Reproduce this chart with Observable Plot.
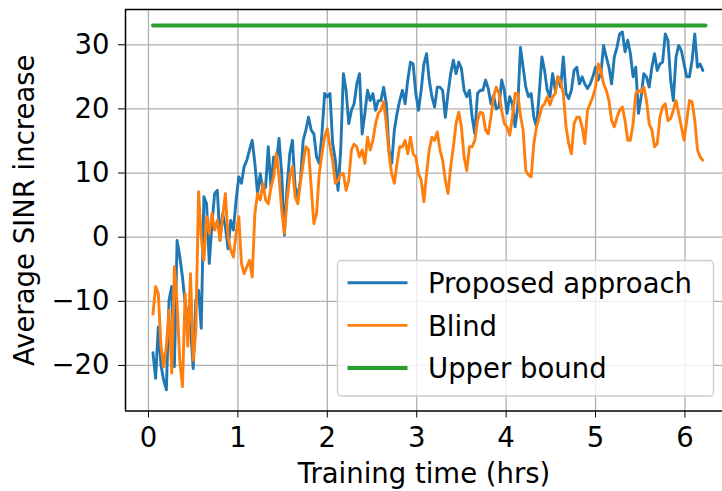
<!DOCTYPE html>
<html>
<head>
<meta charset="utf-8">
<script src="https://cdn.jsdelivr.net/npm/d3@7"></script>
<script src="https://cdn.jsdelivr.net/npm/@observablehq/plot@0.6"></script>
<style>
  body { margin: 0; background: #ffffff; }
  #chart { width: 722px; height: 491px; }
  #chart svg { font-family: "DejaVu Sans", sans-serif; }
  #chart svg text { font-size: 27.5px; }
</style>
</head>
<body>
<div id="chart"></div>
<script>
// Sampling of the training curves (hours)
const startTime = 0.05;
const stepTime = 0.03;

// Average SINR increase, proposed approach
const proposed = [
  -18, -22, -14, -20, -22.3, -23.8, -9.8, -7.7, -20.2, -0.5, -3, -6.2, -10.3, -12.4, -14, -20.5, -9.8, -8.3,
  -14.2, 6.3, 5.2, -4.1, 2.1, 6.8, 7.3, -0.5, 3.7, 1.6, -1.8, 2.6, 1.1, 5.8, 9.4, 8.4, 11, 12,
  13.6, 15.1, 11.5, 6.8, 9.9, 7.3, 7.8, 14.1, 7.8, 12.5, 11.5, 15.4, 9.9, 0.3, 7.8, 13, 15.1, 7.8,
  6.3, 8.9, 15.1, 16.7, 18.7, 16.7, 16.1, 12.5, 11.5, 16.1, 22.4, 21.9, 22.4, 14.6, 12, 7.3, 13.6, 25.5,
  22.9, 17.7, 19.8, 20.8, 23.9, 25.5, 16.1, 19.3, 22.9, 21.3, 22.4, 19.8, 21.3, 21.3, 23.4, 20.8, 13.6, 11.5,
  16.7, 19.3, 21.3, 22.9, 20.8, 24.5, 27.3, 27, 22.4, 19.8, 22.9, 27, 28.6, 24.5, 21.9, 20.3, 23.4, 23.4, 22.9,
  18.7, 22.4, 25.5, 27.6, 25.5, 27.3, 26.3, 22.9, 21.9, 22.9, 18.7, 16.1, 22.4, 22.9, 22.9, 24.5, 23.2, 20.8,
  22.1, 20, 20.3, 24.5, 22.9, 19.3, 21.9, 20.8, 17.2, 20.3, 29.6, 26.5, 23.4, 21.9, 22.4, 18.7, 17.2, 22.4, 28.1,
  26, 22.9, 21.9, 25.5, 22.9, 25, 23.4, 28.1, 22.4, 21.6, 22.9, 26, 26.5, 23.9, 25, 23.9, 23.2, 23.9, 25,
  26.5, 24.5, 25.5, 29.9, 28.1, 26.5, 23.9, 28.1, 29.6, 31.7, 32, 28.9, 30.7, 28.6, 25, 26.5, 19.3, 21.9, 25.5,
  25, 23.4, 26.5, 28.6, 26, 27, 27.3, 31.7, 30.7, 24.5, 21.3, 28.1, 29.9, 29.1, 27, 25, 25, 27.6, 31.7, 26.5, 27, 26
];

// Average SINR increase, blind
const blind = [
  -12, -7.7, -8.8, -17, -20.2, -17, -11.4, -21.2, -4.6, -10.3, -19.2, -23.3, -8.8, -17, -5.7, -19.2, -14.5, 7.1,
  0.05, -3.6, 3.2, 0.6, 3.7, 1.1, 2.6, -0.5, 3.2, 6.8, 0, -2, -3.1, 0.6, 3.2, -4.1, -5.7, -4.6,
  -3.6, -6.2, 3.7, 6.8, 5.8, 8.4, 5.8, 5.2, 7.8, 9.4, 13, 9.4, 4.2, 0.6, 5.8, 9.4, 11, 6.3,
  5.2, 8.6, 11.5, 14.1, 13.6, 7.8, 2.1, 3.7, 9.9, 13, 15.6, 16.9, 14.1, 12, 8.4, 8.9, 9.9, 9.9,
  7.3, 8.9, 13.6, 14.5, 14.1, 12.5, 13.6, 11.5, 15.6, 13.6, 15.1, 17.7, 19.3, 19.8, 21.1, 17.7, 13, 9.9,
  8.4, 11.5, 14.1, 14.1, 15.1, 13, 15.6, 13, 12.5, 9.9, 8.9, 5.5, 9.9, 13.6, 15.6, 15.1, 16.4, 13.6, 12,
  8.9, 6.8, 11, 14.1, 17.7, 19.5, 17.2, 12.5, 10.4, 14.1, 14.1, 15.1, 18.2, 19.5, 19.3, 16.7, 16.1, 18.7,
  21.9, 23.4, 22.4, 19.8, 17.7, 17.2, 15.9, 18.7, 22.4, 22.4, 19, 16.7, 10.4, 9.7, 9.4, 14.6, 17.2, 18.7, 20.3,
  20.8, 21.9, 20.6, 21.9, 22.4, 25, 24.2, 22.4, 17.2, 14.6, 13, 17.7, 18.7, 18.7, 17.2, 14.6, 19.8, 20.8, 21.9,
  23.4, 27, 26, 23.9, 22.9, 21.3, 18.2, 17.2, 18.7, 19.8, 20.3, 18.2, 15.1, 15.1, 17.7, 22.4, 22.9, 22.6, 23.4,
  21.3, 17.7, 16.7, 14.1, 14.6, 18.7, 20.3, 20.8, 18.2, 18.5, 19.8, 21.3, 19.3, 17.2, 15.1, 18.2, 21.3, 21.1, 18.2, 13.6, 12.5, 12
];

// Upper bound: constant level over the training span
const upperBound = 33;
const boundSpan = [0.05, 6.23];

const seriesNames = ["Proposed approach", "Blind", "Upper bound"];
const seriesColors = ["#1f77b4", "#ff7f0e", "#2ca02c"];
const xTicks = [0, 1, 2, 3, 4, 5, 6];
const yTicks = [-20, -10, 0, 10, 20, 30];
const xDomain = [-0.257, 6.42];
const yDomain = [-27.1, 35.5];

const minus = d => (d < 0 ? "\u2212" + Math.abs(d) : String(d));

const curves = [
  ...proposed.map((v, i) => ({ t: startTime + i * stepTime, v, s: seriesNames[0] })),
  ...blind.map((v, i) => ({ t: startTime + i * stepTime, v, s: seriesNames[1] }))
];
const bound = boundSpan.map(t => ({ t, v: upperBound, s: seriesNames[2] }));

const svg = Plot.plot({
  width: 722,
  height: 491,
  marginLeft: 125,
  marginRight: 0,
  marginTop: 9,
  marginBottom: 80.5,
  style: { fontFamily: "DejaVu Sans, sans-serif", fontSize: "27.5px", color: "#000", background: "#fff", overflow: "visible" },
  x: { domain: xDomain, ticks: xTicks, tickFormat: minus, tickSize: 7, tickPadding: 9.5,
       label: "Training time (hrs)", labelArrow: "none", labelAnchor: "center", labelOffset: 72 },
  y: { domain: yDomain, ticks: yTicks, tickFormat: minus, tickSize: 7, tickPadding: 9,
       label: "Average SINR increase", labelArrow: "none", labelAnchor: "center", labelOffset: 111 },
  color: { domain: seriesNames, range: seriesColors },
  marks: [
    Plot.gridX(xTicks, { stroke: "#b0b0b0", strokeOpacity: 1, strokeWidth: 1.3 }),
    Plot.gridY(yTicks, { stroke: "#b0b0b0", strokeOpacity: 1, strokeWidth: 1.3 }),
    Plot.lineY(curves, { x: "t", y: "v", z: "s", stroke: "s", strokeWidth: 2.9 }),
    Plot.line(bound, { x: "t", y: "v", stroke: "s", strokeWidth: 3.9 }),
    Plot.ruleX([xDomain[0]], { stroke: "#000", strokeWidth: 1.5 }),
    Plot.ruleY(yDomain, { stroke: "#000", strokeWidth: 1.5 })
  ]
});

// Legend box in the lower right of the plot area
const g = d3.select(svg).append("g").attr("class", "legend").attr("text-anchor", "start");
g.append("rect")
  .attr("x", 337.5).attr("y", 260.5).attr("width", 376).attr("height", 135.5)
  .attr("rx", 4).attr("fill", "#fff").attr("fill-opacity", 0.8)
  .attr("stroke", "#cccccc").attr("stroke-width", 1.3);
seriesNames.forEach((name, i) => {
  const y = 282.7 + i * 42.65;
  g.append("line")
    .attr("x1", 347.5).attr("x2", 407.5).attr("y1", y).attr("y2", y)
    .attr("stroke", seriesColors[i]).attr("stroke-width", i === 2 ? 3.9 : 2.9);
  g.append("text")
    .attr("x", 428).attr("y", y).attr("dy", "0.37em")
    .attr("text-anchor", "start")
    .attr("fill", "#000")
    .text(name);
});

document.getElementById("chart").appendChild(svg);
</script>
</body>
</html>
